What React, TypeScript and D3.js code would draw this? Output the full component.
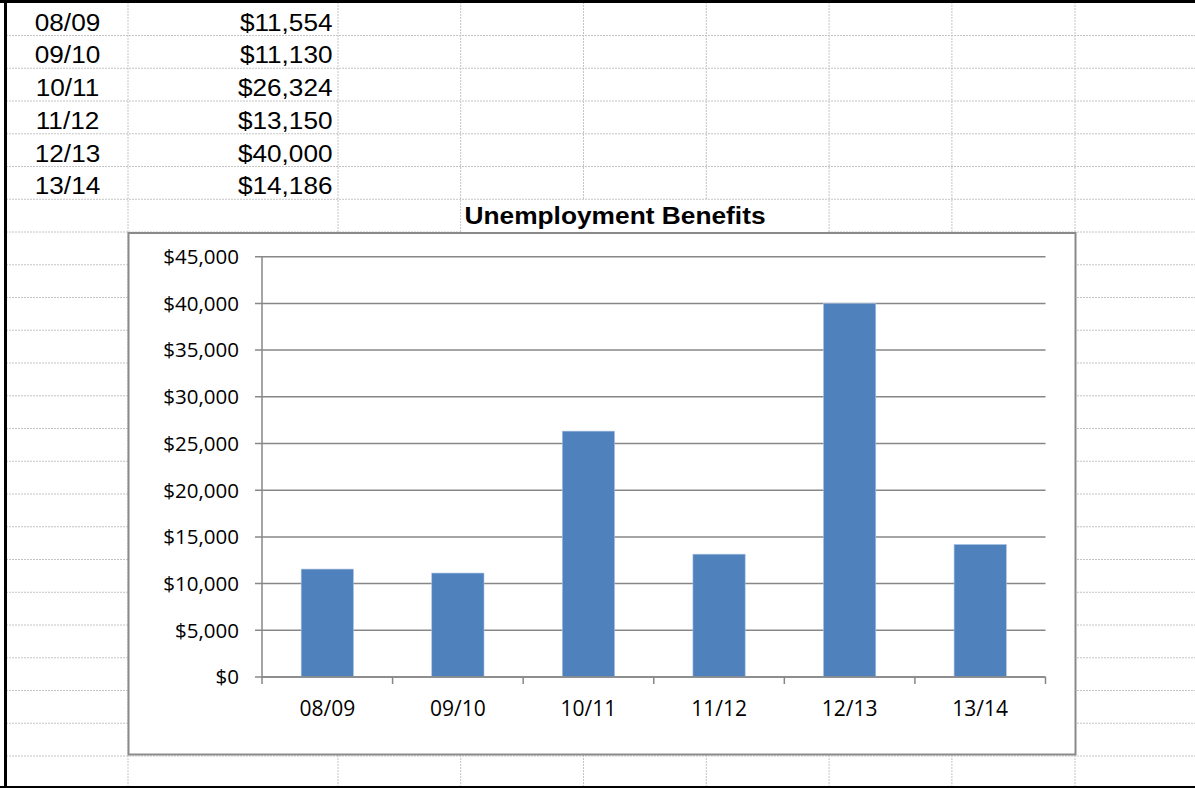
import React from "react";
import * as d3 from "d3";

const categories = ["08/09", "09/10", "10/11", "11/12", "12/13", "13/14"];
const values = [11554, 11130, 26324, 13150, 40000, 14186];
const tableValues = ["$11,554", "$11,130", "$26,324", "$13,150", "$40,000", "$14,186"];
const yTicks = [0, 5000, 10000, 15000, 20000, 25000, 30000, 35000, 40000, 45000];
const title = "Unemployment Benefits";

const W = 1195;
const H = 788;
const rowTop = 2.75;
const rowH = 32.75;
const colLines = [128, 338, 460.7, 583.5, 706.3, 829.1, 951.9, 1075];

const box = { x: 128.5, y: 233, w: 947, h: 521.5 };
const plot = { x0: 262, x1: 1045.5, y0: 677, y1: 256.7 };

export default function App() {
  const x = d3.scaleBand<string>().domain(categories).range([plot.x0, plot.x1]).padding(0);
  const y = d3.scaleLinear().domain([0, 45000]).range([plot.y0, plot.y1]);
  const fmt = d3.format("$,");
  const barW = x.bandwidth() * 0.4;

  const rows: number[] = [];
  for (let k = 1; rowTop + k * rowH < H - 3; k++) rows.push(rowTop + k * rowH);

  const axisFont = "'Open Sans', sans-serif";
  const gridColor = "#878787";

  return (
    <svg
      width={W}
      height={H}
      style={{ position: "absolute", left: 0, top: 0, background: "#fff" }}
    >
      <rect x={0} y={0} width={W} height={H} fill="#fff" />
      {/* spreadsheet gridlines */}
      {rows.map((ry, i) => (
        <line key={"r" + i} x1={6} x2={W} y1={ry} y2={ry} stroke="#c4c4c4" strokeWidth={1} strokeDasharray="2 1" />
      ))}
      {colLines.map((cx, i) => (
        <line key={"c" + i} x1={cx} x2={cx} y1={2} y2={H} stroke="#c4c4c4" strokeWidth={1} strokeDasharray="2 1" />
      ))}
      {/* sheet borders */}
      <line x1={0} x2={W} y1={1.5} y2={1.5} stroke="#000" strokeWidth={3} />
      <line x1={5.5} x2={5.5} y1={0} y2={H} stroke="#000" strokeWidth={3} />
      <line x1={0} x2={W} y1={787} y2={787} stroke="#000" strokeWidth={2} />

      {/* table */}
      {categories.map((c, i) => {
        const base = rowTop + (i + 1) * rowH - 5;
        return (
          <g key={"t" + i} fontFamily="'Liberation Sans', Arial, sans-serif" fontSize={24} fill="#000">
            <text transform={`translate(67.5,${base}) scale(1.09,1)`} textAnchor="middle">{c}</text>
            <text transform={`translate(332.5,${base}) scale(1.09,1)`} textAnchor="end">{tableValues[i]}</text>
          </g>
        );
      })}

      {/* title cell */}
      <rect x={461.5} y={200} width={366.5} height={32} fill="#fff" />
      <text
        transform={`translate(615,223.5) scale(1.12,1)`}
        textAnchor="middle"
        fontFamily="'Liberation Sans', Arial, sans-serif"
        fontWeight="bold"
        fontSize={23.5}
        fill="#000"
      >
        {title}
      </text>

      {/* chart box */}
      <rect x={box.x} y={box.y} width={box.w} height={box.h} fill="#fff" stroke="#8a8a8a" strokeWidth={2} />

      {/* gridlines & y axis */}
      {yTicks.map((t) => (
        <g key={"y" + t}>
          <line x1={plot.x0 - 7} x2={plot.x1} y1={y(t)} y2={y(t)} stroke={gridColor} strokeWidth={1.5} />
          <text
            x={239}
            y={y(t)}
            dy="0.36em"
            textAnchor="end"
            fontFamily={axisFont}
            fontSize={20.5}
            fill="#000"
          >
            {fmt(t)}
          </text>
        </g>
      ))}
      <line x1={plot.x0} x2={plot.x0} y1={plot.y1} y2={plot.y0} stroke={gridColor} strokeWidth={1.5} />

      {/* bars */}
      {categories.map((c, i) => (
        <rect
          key={"b" + c}
          x={(x(c) as number) + x.bandwidth() / 2 - barW / 2}
          y={y(values[i])}
          width={barW}
          height={y(0) - y(values[i])}
          fill="#4f81bd"
          stroke="#a9c1df"
          strokeWidth={0.6}
        />
      ))}

      {/* x axis */}
      <line x1={plot.x0} x2={plot.x1} y1={plot.y0} y2={plot.y0} stroke={gridColor} strokeWidth={1.5} />
      {categories.concat(["__end"]).map((c, i) => {
        const tx = i < categories.length ? (x(c) as number) : plot.x1;
        return <line key={"xt" + i} x1={tx} x2={tx} y1={plot.y0} y2={plot.y0 + 7} stroke={gridColor} strokeWidth={1.5} />;
      })}
      {categories.map((c) => (
        <text
          key={"xl" + c}
          x={(x(c) as number) + x.bandwidth() / 2}
          y={708}
          dy="0.36em"
          textAnchor="middle"
          fontFamily={axisFont}
          fontSize={21}
          fill="#000"
        >
          {c}
        </text>
      ))}
    </svg>
  );
}
